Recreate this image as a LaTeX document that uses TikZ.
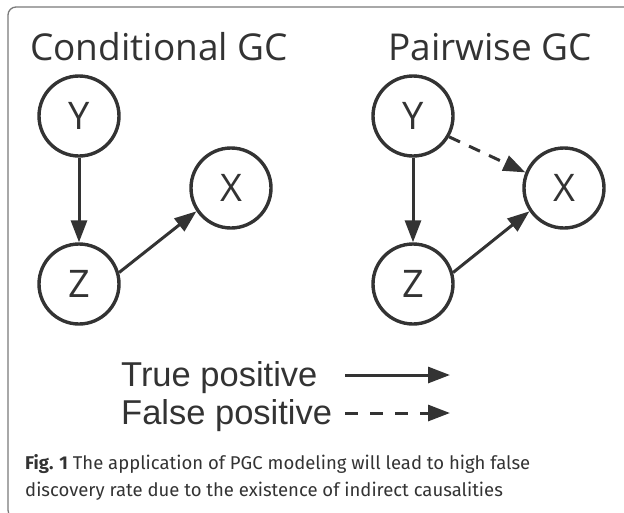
\documentclass[tikz,border=0pt]{standalone}
\usepackage{fontspec}
\setmainfont{Open Sans}
\newfontfamily\legendfont{Liberation Sans}
\newfontfamily\capfont{Fira Sans}
\usetikzlibrary{arrows.meta}
\definecolor{ink}{HTML}{333333}
\definecolor{framecol}{HTML}{7a7a7a}
\tikzset{
  vnode/.style={circle,draw=ink,line width=3.4pt,minimum size=80pt,inner sep=0pt,
    text=ink,font=\fontsize{38}{40}\selectfont},
  edge/.style={draw=ink,line width=3pt,-{Triangle[length=22pt,width=16pt]}},
  fedge/.style={edge,dash pattern=on 12pt off 10pt},
  title/.style={anchor=base west,inner sep=0pt,text=ink,font=\fontsize{37}{40}\selectfont},
  legtext/.style={anchor=base west,inner sep=0pt,text=ink,font=\legendfont\fontsize{34.5}{36}\selectfont},
  captext/.style={anchor=base west,inner sep=0pt,text=ink,font=\capfont\fontsize{18.5}{22}\selectfont}
}
\begin{document}
\begin{tikzpicture}[x=1pt,y=-1pt]
\useasboundingbox (0,0) rectangle (624,512);
\begin{scope}
\clip (0,0) rectangle (624,512);
\draw[framecol,line width=1.3pt,rounded corners=8pt] (8,7) rectangle (660,518);
\end{scope}
% titles
\node[title] (t1) at (30,60) {Conditional GC};
\node[title] (t2) at (388,60) {Pairwise GC};
% left graph
\node[vnode] (Y1) at (79,116) {Y};
\node[vnode] (Z1) at (79,284) {Z};
\node[vnode] (X1) at (231,188) {X};
\draw[edge] (Y1.south) -- (Z1.north);
\draw[edge] (Z1.16) -- (X1.214);
% right graph
\node[vnode] (Y2) at (413,116) {Y};
\node[vnode] (Z2) at (413,284) {Z};
\node[vnode] (X2) at (564,188) {X};
\draw[edge] (Y2.south) -- (Z2.north);
\draw[edge] (Z2.16) -- (X2.214);
\draw[fedge] (Y2.-30) -- (X2.158);
% legend
\node[legtext] (l1) at (121,386) {True positive};
\node[legtext] (l2) at (121,424) {False positive};
\coordinate (a1s) at (345,375);
\coordinate (a1e) at (450,375);
\coordinate (a2s) at (345,413);
\coordinate (a2e) at (450,413);
\draw[edge] (a1s) -- (a1e);
\draw[fedge,dash pattern=on 13pt off 12pt] (a2s) -- (a2e);
% caption
\node[captext] (c1) at (25,469) {\textbf{Fig. 1} The application of PGC modeling will lead to high false};
\node[captext] (c2) at (25,496) {discovery rate due to the existence of indirect causalities};
\end{tikzpicture}
\end{document}
